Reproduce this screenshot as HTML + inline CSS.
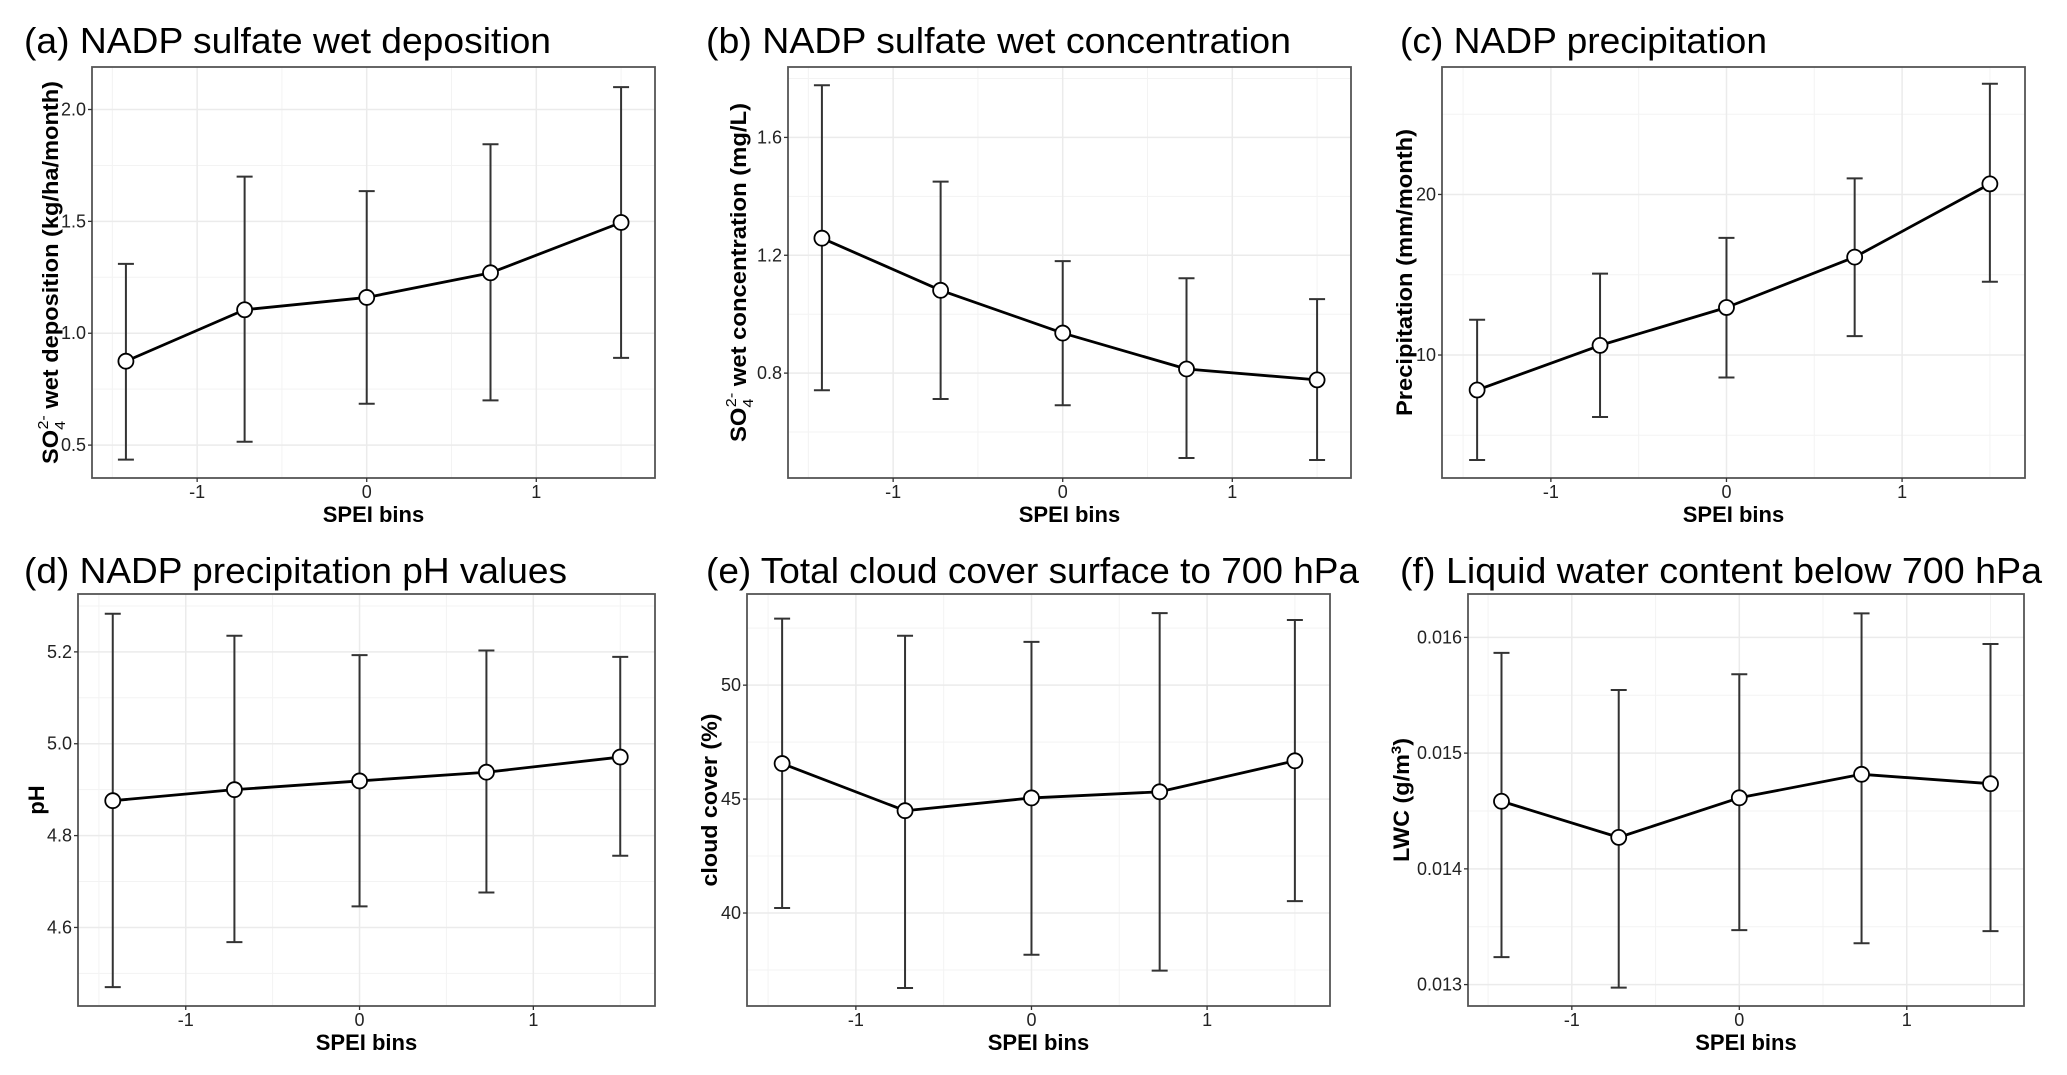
<!DOCTYPE html>
<html><head><meta charset="utf-8"><style>
html,body{margin:0;padding:0;background:#fff;}
svg{display:block;}
</style></head><body>
<svg id="fig" width="2067" height="1075" viewBox="0 0 2067 1075" xmlns="http://www.w3.org/2000/svg"></svg>
<script>
// Shared SPEI bin centres
const bins = [-1.42, -0.72, 0, 0.73, 1.5];
const xTicks = [-1, 0, 1];
const xTickLabels = ["-1", "0", "1"];

// (a) sulfate wet deposition
const meanA = [0.875, 1.105, 1.16, 1.27, 1.495];
const upA = [1.31, 1.70, 1.635, 1.845, 2.10];
const loA = [0.435, 0.515, 0.685, 0.70, 0.89];
const yTicksA = [0.5, 1.0, 1.5, 2.0];
const yTickLabelsA = ["0.5", "1.0", "1.5", "2.0"];

// (b) sulfate wet concentration
const meanB = [1.258, 1.081, 0.936, 0.814, 0.777];
const upB = [1.777, 1.45, 1.18, 1.122, 1.051];
const loB = [0.742, 0.712, 0.691, 0.512, 0.505];
const yTicksB = [0.8, 1.2, 1.6];
const yTickLabelsB = ["0.8", "1.2", "1.6"];

// (c) precipitation
const meanC = [7.82, 10.6, 12.96, 16.1, 20.66];
const upC = [12.2, 15.07, 17.3, 21.0, 26.9];
const loC = [3.46, 6.14, 8.6, 11.18, 14.56];
const yTicksC = [10, 20];
const yTickLabelsC = ["10", "20"];

// (d) pH
const meanD = [4.876, 4.900, 4.919, 4.938, 4.971];
const upD = [5.283, 5.235, 5.193, 5.203, 5.189];
const loD = [4.470, 4.568, 4.646, 4.676, 4.756];
const yTicksD = [4.6, 4.8, 5.0, 5.2];
const yTickLabelsD = ["4.6", "4.8", "5.0", "5.2"];

// (e) cloud cover
const meanE = [46.56, 44.49, 45.05, 45.32, 46.68];
const upE = [52.92, 52.17, 51.9, 53.16, 52.86];
const loE = [40.22, 36.71, 38.17, 37.47, 40.52];
const yTicksE = [40, 45, 50];
const yTickLabelsE = ["40", "45", "50"];

// (f) LWC
const meanF = [0.014584, 0.014272, 0.014614, 0.014817, 0.014736];
const upF = [0.015866, 0.015545, 0.015682, 0.016208, 0.015943];
const loF = [0.013237, 0.012974, 0.013471, 0.013357, 0.013462];
const yTicksF = [0.013, 0.014, 0.015, 0.016];
const yTickLabelsF = ["0.013", "0.014", "0.015", "0.016"];

const NS = "http://www.w3.org/2000/svg";
const svg = document.getElementById("fig");
function mk(tag, attrs, parent) {
  const e = document.createElementNS(NS, tag);
  for (const k in attrs) e.setAttribute(k, attrs[k]);
  (parent || svg).appendChild(e);
  return e;
}

const panels = [
  {id:"a", title:"(a) NADP sulfate wet deposition", tx:24, ty:53, tw:527,
   L:92, R:655, T:67, B:478, ylim:[0.353, 2.19],
   mean:meanA, up:upA, lo:loA, yt:yTicksA, ytl:yTickLabelsA,
   ytitle:"so4", ytText:" wet deposition (kg/ha/month)", yx:58, ylen:383},
  {id:"b", title:"(b) NADP sulfate wet concentration", tx:706, ty:53, tw:585,
   L:788, R:1351, T:67, B:478, ylim:[0.444, 1.839],
   mean:meanB, up:upB, lo:loB, yt:yTicksB, ytl:yTickLabelsB,
   ytitle:"so4", ytText:" wet concentration (mg/L)", yx:746, ylen:339},
  {id:"c", title:"(c) NADP precipitation", tx:1400, ty:53, tw:367,
   L:1442, R:2025, T:67, B:478, ylim:[2.34, 27.94],
   mean:meanC, up:upC, lo:loC, yt:yTicksC, ytl:yTickLabelsC,
   ytitle:"plain", ytText:"Precipitation (mm/month)", yx:1412, ylen:287},
  {id:"d", title:"(d) NADP precipitation pH values", tx:24, ty:583, tw:543,
   L:78, R:655, T:594, B:1006, ylim:[4.429, 5.326],
   mean:meanD, up:upD, lo:loD, yt:yTicksD, ytl:yTickLabelsD,
   ytitle:"plain", ytText:"pH", yx:44, ylen:0},
  {id:"e", title:"(e) Total cloud cover surface to 700 hPa", tx:706, ty:583, tw:653,
   L:747, R:1330, T:594, B:1006, ylim:[35.92, 54.0],
   mean:meanE, up:upE, lo:loE, yt:yTicksE, ytl:yTickLabelsE,
   ytitle:"plain", ytText:"cloud cover (%)", yx:717, ylen:173},
  {id:"f", title:"(f) Liquid water content below 700 hPa", tx:1400, ty:583, tw:642,
   L:1468, R:2024, T:594, B:1006, ylim:[0.012815, 0.016375],
   mean:meanF, up:upF, lo:loF, yt:yTicksF, ytl:yTickLabelsF,
   ytitle:"lwc", ytText:"LWC (g/m", yx:1409, ylen:124}
];
const xlim = [-1.62, 1.70];

panels.forEach(p => {
  const g = mk("g", {});
  
  
  const xs = v => p.L + (v - xlim[0]) / (xlim[1] - xlim[0]) * (p.R - p.L);
  const ys = v => p.B - (v - p.ylim[0]) / (p.ylim[1] - p.ylim[0]) * (p.B - p.T);

  // title
  const t = mk("text", {x:p.tx, y:p.ty, "font-family":"Liberation Sans, sans-serif", "font-size":36,
    textLength:p.tw, lengthAdjust:"spacingAndGlyphs", fill:"#000"}, g);
  t.textContent = p.title;
  
  

  // background
  mk("rect", {x:p.L, y:p.T, width:p.R-p.L, height:p.B-p.T, fill:"#fff"}, g);
  // minor grid
  const gridG = mk("g", {}, g);
  
  
  for (let i = 0; i < xTicks.length + 1; i++) {
    const v = xTicks[0] - 0.5 + i;
    mk("line", {x1:xs(v), x2:xs(v), y1:p.T, y2:p.B, stroke:"#f3f3f3", "stroke-width":1}, gridG);
  }
  const step = p.yt[1] - p.yt[0];
  for (let i = -1; i < p.yt.length; i++) {
    const v = p.yt[0] + step * (i + 0.5);
    if (v > p.ylim[0] && v < p.ylim[1])
      mk("line", {x1:p.L, x2:p.R, y1:ys(v), y2:ys(v), stroke:"#f3f3f3", "stroke-width":1}, gridG);
  }
  xTicks.forEach(v => mk("line", {x1:xs(v), x2:xs(v), y1:p.T, y2:p.B, stroke:"#ebebeb", "stroke-width":1.5}, gridG));
  p.yt.forEach(v => mk("line", {x1:p.L, x2:p.R, y1:ys(v), y2:ys(v), stroke:"#ebebeb", "stroke-width":1.5}, gridG));

  // error bars
  bins.forEach((b, i) => {
    const eb = mk("g", {stroke:"#333", "stroke-width":2, fill:"none"}, g);
    
    
    const x = xs(b);
    mk("line", {x1:x, x2:x, y1:ys(p.up[i]), y2:ys(p.lo[i])}, eb);
    mk("line", {x1:x-8, x2:x+8, y1:ys(p.up[i]), y2:ys(p.up[i])}, eb);
    mk("line", {x1:x-8, x2:x+8, y1:ys(p.lo[i]), y2:ys(p.lo[i])}, eb);
  });
  // line
  const pts = bins.map((b, i) => xs(b) + "," + ys(p.mean[i])).join(" ");
  const pl = mk("polyline", {points:pts, fill:"none", stroke:"#000", "stroke-width":2.8, "stroke-linejoin":"round"}, g);
  
  
  bins.forEach((b, i) => {
    const c = mk("circle", {cx:xs(b), cy:ys(p.mean[i]), r:7.5, fill:"#fff", stroke:"#000", "stroke-width":1.8}, g);
    
    
  });

  // border
  const br = mk("rect", {x:p.L, y:p.T, width:p.R-p.L, height:p.B-p.T, fill:"none", stroke:"#555", "stroke-width":1.8}, g);
  
  

  // x ticks
  xTicks.forEach((v, i) => {
    mk("line", {x1:xs(v), x2:xs(v), y1:p.B, y2:p.B+4, stroke:"#333", "stroke-width":1.3}, g);
    const tl = mk("text", {x:xs(v), y:p.B+20, "text-anchor":"middle", "font-family":"Liberation Sans, sans-serif", "font-size":18, fill:"#222"}, g);
    tl.textContent = xTickLabels[i];
    
    
  });
  // y ticks
  p.yt.forEach((v, i) => {
    mk("line", {x1:p.L-4, x2:p.L, y1:ys(v), y2:ys(v), stroke:"#333", "stroke-width":1.3}, g);
    const tl = mk("text", {x:p.L-6, y:ys(v)+6, "text-anchor":"end", "font-family":"Liberation Sans, sans-serif", "font-size":18, fill:"#222"}, g);
    tl.textContent = p.ytl[i];
    
    
  });
  // x title
  const xt = mk("text", {x:(p.L+p.R)/2, y:p.B+44, "text-anchor":"middle", "font-family":"Liberation Sans, sans-serif", "font-size":22, "font-weight":"bold", fill:"#000"}, g);
  xt.textContent = "SPEI bins";
  
  

  // y title
  const cy = (p.T + p.B) / 2;
  const yt = mk("text", {x:0, y:0, transform:"translate(" + p.yx + "," + cy + ") rotate(-90)", "text-anchor":"middle",
    "font-family":"Liberation Sans, sans-serif", "font-size":22, "font-weight":"bold", fill:"#000"}, g);
  if (p.ylen) { yt.setAttribute("textLength", p.ylen); yt.setAttribute("lengthAdjust", "spacingAndGlyphs"); }
  
  
  if (p.ytitle === "so4") {
    const s1 = mk("tspan", {}, yt); s1.textContent = "SO";
    const s2 = mk("tspan", {"font-size":15, "font-weight":"normal", dy:7}, yt); s2.textContent = "4";
    const s3 = mk("tspan", {"font-size":15, "font-weight":"normal", dx:-8, dy:-17}, yt); s3.textContent = "2-";
    const s4 = mk("tspan", {dy:10}, yt); s4.textContent = p.ytText;
  } else if (p.ytitle === "lwc") {
    const s1 = mk("tspan", {}, yt); s1.textContent = p.ytText;
    const s2 = mk("tspan", {"font-size":14, dy:-8}, yt); s2.textContent = "3";
    const s3 = mk("tspan", {dy:8}, yt); s3.textContent = ")";
  } else {
    yt.textContent = p.ytText;
  }
});
</script>
</body></html>
